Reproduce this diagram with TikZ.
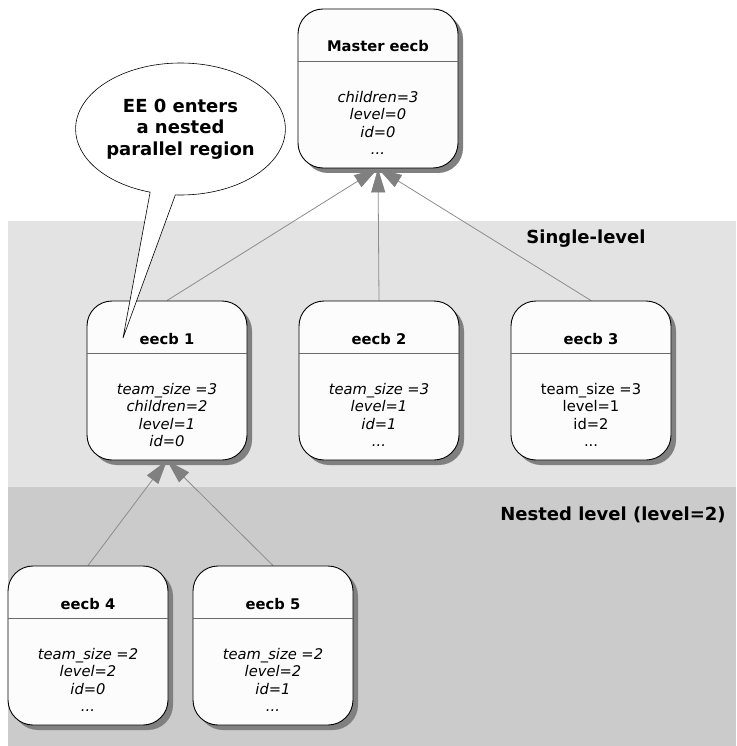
\documentclass[tikz,border=0pt]{standalone}
\usepackage{fontspec}
\setmainfont{DejaVu Sans}
\usetikzlibrary{arrows.meta,shadows,shapes.callouts,calc}

\definecolor{bandlight}{HTML}{E3E3E3}
\definecolor{banddark}{HTML}{CBCBCB}
\definecolor{boxfill}{HTML}{FCFCFC}
\definecolor{linkgray}{HTML}{8C8C8C}
\definecolor{headgray}{HTML}{808080}
\definecolor{rulegray}{HTML}{6A6A6A}

\pgfdeclarelayer{bands}
\pgfdeclarelayer{edges}
\pgfsetlayers{bands,edges,main}

\tikzset{
  blockbox/.style={draw=black, line width=0.9pt, fill=boxfill,
    rounded corners=25pt, minimum width=160pt, minimum height=159pt,
    inner sep=0pt,
    drop shadow={shadow xshift=5pt, shadow yshift=-5pt, fill=headgray, opacity=1}},
  divider/.style={draw=rulegray, line width=1.3pt},
  blocktitle/.style={anchor=base, inner sep=0pt,
    font=\fontsize{14.7}{17}\selectfont\bfseries},
  blockbody/.style={anchor=north, inner sep=0pt, align=center,
    font=\fontsize{14.7}{17.5}\selectfont},
  bodyit/.style={font=\fontsize{14.7}{17.5}\selectfont\itshape},
  bodyup/.style={},
  link/.style={draw=linkgray, line width=0.8pt,
    -{Triangle[length=24pt,width=14pt,color=headgray]}},
  bandlabel/.style={font=\fontsize{18}{21}\selectfont\bfseries, inner sep=0pt},
  bubble/.style={ellipse callout, draw=black, line width=0.6pt, fill=white,
    minimum width=187pt, minimum height=132pt, inner sep=0pt,
    align=center, font=\fontsize{18}{21.7}\selectfont\bfseries}
}

% one control block: name, left, top, title, body, body style
\newcommand\ctrlblock[6]{%
  \node[blockbox] (#1) at (#2+80,#3+79.5) {};
  \draw[divider] ($(#1.north west)+(0,53)$) -- ($(#1.north east)+(0,53)$);
  \node[blocktitle] (#1-title) at (#2+80,#3+43) {#4};
  \node[blockbody,#6] (#1-body) at (#2+80,#3+82) {#5};
}

\begin{document}
\begin{tikzpicture}[x=1pt,y=-1pt]
\useasboundingbox (0,0) rectangle (736,746);

% level bands
\begin{pgfonlayer}{bands}
  \fill[bandlight] (8,221) rectangle (736,487);
  \fill[banddark] (8,487) rectangle (736,746);
\end{pgfonlayer}
\node[bandlabel] (single) at (586,239) {Single-level};
\node[bandlabel] (nested) at (613,515) {Nested level (level=2)};

% control blocks
\ctrlblock{master}{298}{9}{Master eecb}{children=3\\level=0\\id=0\\...}{bodyit}
\ctrlblock{e1}{87}{301}{eecb 1}{team\_size =3\\children=2\\level=1\\id=0}{bodyit}
\ctrlblock{e2}{299}{301}{eecb 2}{team\_size =3\\level=1\\id=1\\...}{bodyit}
\ctrlblock{e3}{511}{301}{eecb 3}{team\_size =3\\level=1\\id=2\\...}{bodyup}
\ctrlblock{e4}{8}{566}{eecb 4}{team\_size =2\\level=2\\id=0\\...}{bodyit}
\ctrlblock{e5}{193}{566}{eecb 5}{team\_size =2\\level=2\\id=1\\...}{bodyit}

% parent links
\begin{pgfonlayer}{edges}
  \draw[link] (e1.north) -- (master.south);
  \draw[link] (e2.north) -- (master.south);
  \draw[link] (e3.north) -- (master.south);
  \draw[link] (e4.north) -- (e1.south);
  \draw[link] (e5.north) -- (e1.south);
\end{pgfonlayer}

% speech bubble
\coordinate (tip) at (123,338);
\node[bubble, callout absolute pointer={(tip)}, callout pointer arc=14]
  (note) at (180.5,129) {EE 0 enters\\a nested\\parallel region};
\end{tikzpicture}
\end{document}
